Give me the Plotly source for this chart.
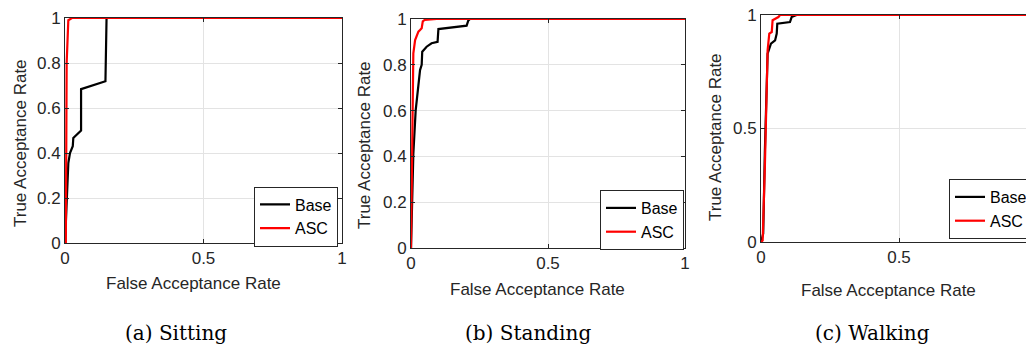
import plotly.graph_objects as go

# Panel (a) Sitting
sit_base_far = [0, 0.006, 0.012, 0.018, 0.028, 0.030, 0.054, 0.058, 0.058, 0.146, 0.150, 1.0]
sit_base_tar = [0, 0.20, 0.355, 0.40, 0.43, 0.467, 0.496, 0.50, 0.684, 0.719, 1.0, 1.0]
sit_asc_far = [0, 0.003, 0.006, 0.012, 0.025, 1.0]
sit_asc_tar = [0, 0.0, 0.80, 0.99, 1.0, 1.0]

# Panel (b) Standing
std_base_far = [0, 0.0085, 0.017, 0.027, 0.033, 0.039, 0.041, 0.057, 0.075, 0.097, 0.100, 0.203, 0.209, 0.215, 1.0]
std_base_tar = [0, 0.41, 0.60, 0.733, 0.777, 0.80, 0.857, 0.879, 0.894, 0.90, 0.956, 0.971, 0.993, 1.0, 1.0]
std_asc_far = [0, 0.004, 0.0085, 0.015, 0.027, 0.033, 0.039, 0.043, 0.050, 0.094, 1.0]
std_asc_tar = [0, 0.50, 0.85, 0.908, 0.945, 0.952, 0.96, 0.99, 0.996, 1.0, 1.0]

# Panel (c) Walking
wlk_base_far = [0, 0.008, 0.014, 0.020, 0.024, 0.036, 0.051, 0.057, 0.059, 0.105, 0.111, 0.129, 1.0]
wlk_base_tar = [0, 0.037, 0.40, 0.70, 0.83, 0.874, 0.888, 0.918, 0.962, 0.969, 0.991, 1.0, 1.0]
wlk_asc_far = [0, 0.006, 0.014, 0.020, 0.024, 0.030, 0.039, 0.042, 0.063, 0.069, 1.0]
wlk_asc_tar = [0, 0.007, 0.33, 0.62, 0.844, 0.918, 0.925, 0.977, 0.991, 1.0, 1.0]

series_names = ["Base", "ASC"]
series_colors = ["#000000", "#ff0000"]
captions = ["(a) Sitting", "(b) Standing", "(c) Walking"]
x_title = "False Acceptance Rate"
y_title = "True Acceptance Rate"
ytick_fine = [0, 0.2, 0.4, 0.6, 0.8, 1]
ytick_fine_text = ["0", "0.2", "0.4", "0.6", "0.8", "1"]
ytick_coarse = [0, 0.5, 1]
ytick_coarse_text = ["0", "0.5", "1"]
xtick_vals = [0, 0.5, 1]
xtick_text = ["0", "0.5", "1"]

W, H = 1034, 346
OFF = 8  # page body margin offset

def px(x):
    return (x - OFF) / W

def py(y):
    return 1 - (y - OFF) / H

panels = [
    dict(base=(sit_base_far, sit_base_tar), asc=(sit_asc_far, sit_asc_tar),
         dx=(px(65), px(342)), dy=(py(243), py(18)), yt=(ytick_fine, ytick_fine_text),
         leg=(px(296), py(216.5), "center"), xt=(193, 283), ytl=(20, 143), cap=(176, 333)),
    dict(base=(std_base_far, std_base_tar), asc=(std_asc_far, std_asc_tar),
         dx=(px(411), px(685)), dy=(py(248), py(19)), yt=(ytick_fine, ytick_fine_text),
         leg=(px(642), py(220), "center"), xt=(537, 289), ytl=(365, 145), cap=(528, 333)),
    dict(base=(wlk_base_far, wlk_base_tar), asc=(wlk_asc_far, wlk_asc_tar),
         dx=(px(761), px(1037)), dy=(py(242), py(15)), yt=(ytick_coarse, ytick_coarse_text),
         leg=(px(1033), py(209), "right"), xt=(888, 290), ytl=(716, 137), cap=(872, 333)),
]

fig = go.Figure()
layout = dict(
    width=W, height=H,
    margin=dict(l=0, r=0, t=0, b=0, pad=0, autoexpand=False),
    paper_bgcolor="white", plot_bgcolor="white",
    font=dict(family="Liberation Sans, Arial, sans-serif", size=17, color="#262626"),
    showlegend=True,
)
annotations = []
axis_common = dict(
    showline=True, linecolor="#262626", linewidth=1, mirror="ticks",
    ticks="inside", ticklen=4, tickcolor="#262626", tickwidth=1,
    showgrid=True, gridcolor="#e3e3e3", gridwidth=1, zeroline=False,
    tickfont=dict(size=17, color="#262626"), automargin=False,
    ticklabeloverflow="allow",
)

for i, p in enumerate(panels):
    k = "" if i == 0 else str(i + 1)
    legname = "legend" if i == 0 else f"legend{i + 1}"
    for (fx, ty), name, col in zip([p["base"], p["asc"]], series_names, series_colors):
        fig.add_trace(go.Scatter(
            x=fx, y=ty, mode="lines", name=name,
            line=dict(color=col, width=2.2),
            xaxis="x" + k, yaxis="y" + k, legend=legname,
        ))
    layout["xaxis" + k] = dict(axis_common, domain=list(p["dx"]), range=[0, 1],
                               tickvals=xtick_vals, ticktext=xtick_text,
                               anchor="y" + k)
    layout["yaxis" + k] = dict(axis_common, domain=list(p["dy"]), range=[0, 1],
                               tickvals=p["yt"][0], ticktext=p["yt"][1],
                               anchor="x" + k)
    layout[legname] = dict(
        x=p["leg"][0], y=p["leg"][1], xanchor=p["leg"][2], yanchor="middle",
        bgcolor="white", bordercolor="#262626", borderwidth=1,
        font=dict(size=16, color="#000000"), itemwidth=30,
        tracegroupgap=0, traceorder="normal",
    )
    annotations.append(dict(text=x_title, x=px(p["xt"][0]), y=py(p["xt"][1]),
                            xref="paper", yref="paper", showarrow=False,
                            xanchor="center", yanchor="middle",
                            font=dict(size=17, color="#262626")))
    annotations.append(dict(text=y_title, x=px(p["ytl"][0]), y=py(p["ytl"][1]),
                            xref="paper", yref="paper", showarrow=False, textangle=-90,
                            xanchor="center", yanchor="middle",
                            font=dict(size=17, color="#262626")))
    annotations.append(dict(text=captions[i], x=px(p["cap"][0]), y=py(p["cap"][1]),
                            xref="paper", yref="paper", showarrow=False,
                            xanchor="center", yanchor="middle",
                            font=dict(family="DejaVu Serif, serif", size=20, color="#000000")))

layout["annotations"] = annotations
fig.update_layout(**layout)
fig.write_html("out.html")
